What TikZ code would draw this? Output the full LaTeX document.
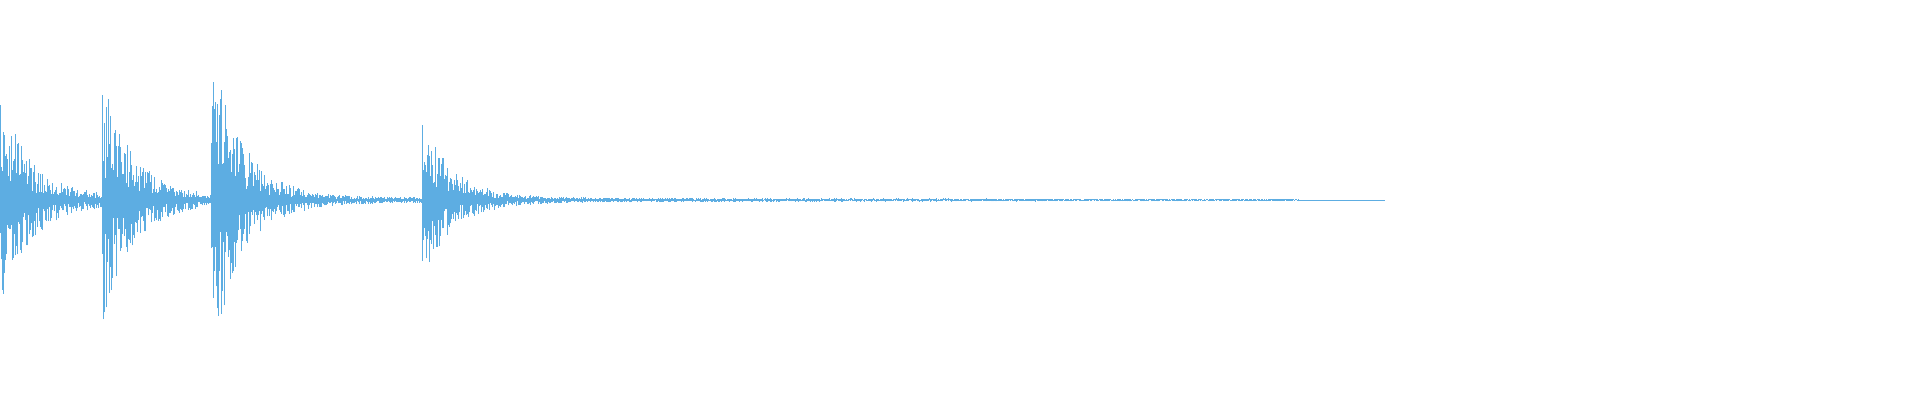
\documentclass[tikz,border=0pt]{standalone}
\usepackage{tikz}
\definecolor{wave}{RGB}{93,173,226}

\begin{document}
\begin{tikzpicture}
    % Parameters
        \def\tau{30} % decay of each hit, in px
        \useasboundingbox (0,0) rectangle (19.2,4);
        \pgfmathsetseed{7}

        % Waveform, one stroke per px
        \foreach \x in {0,1,...,1384} {
            \pgfmathsetmacro\e{1.0*exp(-min(\x/\tau,20))
                + (\x>=102)*1.15*exp(-min(max(\x-102,0)/\tau,20))
                + (\x>=211)*1.55*exp(-min(max(\x-211,0)/\tau,20))
                + (\x>=422)*0.80*exp(-min(max(\x-422,0)/\tau,20))
                + 0.05*exp(-\x/450) + 0.01*(\x<1300)}
            \pgfmathsetmacro\up{\e*(0.2+0.8*rnd)}
            \pgfmathsetmacro\dn{\e*(0.2+0.8*rnd)}
            \draw[wave, line width=0.2pt] (\x/100, 2-\dn) -- (\x/100, 2+\up);
        }
    \end{tikzpicture}
\end{document}
